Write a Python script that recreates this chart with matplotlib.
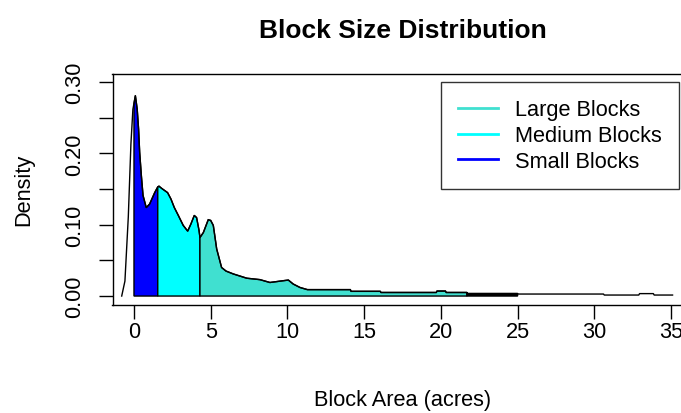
import numpy as np
import matplotlib.pyplot as plt
from matplotlib.lines import Line2D

plt.rcParams['font.family'] = ['Liberation Sans', 'DejaVu Sans']

# density curve (block area in acres, density)
area = [-0.80, -0.59, -0.37, -0.20, -0.07, 0.00, 0.09, 0.21, 0.30, 0.37,
        0.48, 0.59, 0.80, 1.02, 1.35, 1.55, 1.63, 1.80, 2.19, 2.41,
        2.63, 2.89, 3.21, 3.50, 3.71, 3.93, 4.08, 4.24, 4.30, 4.52,
        4.84, 5.00, 5.17, 5.39, 5.71, 6.00, 6.47, 7.35, 8.21, 8.86,
        9.73, 10.06, 10.38, 10.82, 11.30, 14.10, 14.15, 16.05, 16.10, 19.70,
        19.75, 20.30, 20.35, 21.70, 21.75, 25.00, 25.05, 30.60, 30.65, 32.90,
        32.95, 33.85, 33.90, 35.10]
density = [0.000, 0.021, 0.111, 0.213, 0.262, 0.270, 0.281, 0.262, 0.234, 0.2015,
           0.169, 0.141, 0.124, 0.129, 0.145, 0.153, 0.154, 0.151, 0.145, 0.136,
           0.124, 0.113, 0.099, 0.091, 0.101, 0.113, 0.110, 0.092, 0.082, 0.089,
           0.107, 0.106, 0.099, 0.066, 0.040, 0.035, 0.031, 0.025, 0.023, 0.019,
           0.0215, 0.0224, 0.0168, 0.012, 0.009, 0.009, 0.0066, 0.0066, 0.005, 0.005,
           0.007, 0.007, 0.005, 0.005, 0.0035, 0.0035, 0.0028, 0.0028, 0.0014, 0.0014,
           0.0034, 0.0034, 0.0014, 0.0014]

# shaded ranges
cut_lo = [0.00, 1.55, 4.30, 21.70]
cut_hi = [1.55, 4.30, 21.70, 25.00]
fills = ['#0000FF', '#00FFFF', '#40E0D0', 'black']

legend_labels = ['Large Blocks', 'Medium Blocks', 'Small Blocks']
legend_colors = ['#40E0D0', '#00FFFF', '#0000FF']

x = np.array(area)
y = np.array(density)

fig = plt.figure(figsize=(6.81, 4.14), dpi=100)
ax = fig.add_axes([112.5 / 681, 1 - 305.6 / 414, 580 / 681, 231.1 / 414])

ax.plot(x, y, color='black', lw=1.0)
for lo, hi, c in zip(cut_lo, cut_hi, fills):
    m = (x >= lo) & (x <= hi)
    ax.fill(np.r_[lo, x[m], hi], np.r_[0, y[m], 0], facecolor=c,
            edgecolor='black', lw=1.0)

ax.set_xlim(-1.4, 36.4)
ax.set_ylim(-0.012, 0.312)
ax.set_xticks(np.arange(0, 36, 5))
ax.set_yticks(np.arange(0, 0.31, 0.05))
ax.set_yticklabels([('%.2f' % v) if i % 2 == 0 else '' for i, v in
                    enumerate(np.arange(0, 0.31, 0.05))],
                   rotation=90, va='center')
ax.tick_params(direction='out', length=10, width=1.0, labelsize=15.7)
ax.tick_params(axis='x', pad=2)
ax.tick_params(axis='y', pad=10)
for s in ax.spines.values():
    s.set_linewidth(1.0)

ax.set_title('Block Size Distribution', fontsize=19, fontweight='bold', pad=26)
ax.set_xlabel('Block Area (acres)', fontsize=15.7, labelpad=34)
ax.set_ylabel('Density', fontsize=15.7, labelpad=21)

handles = [Line2D([0], [0], color=c, lw=2) for c in legend_colors]
leg = fig.legend(handles, legend_labels, loc='upper left',
                 bbox_to_anchor=(441 / 681, 1 - 83 / 414), borderaxespad=0,
                 fontsize=15.7, frameon=True, fancybox=False,
                 handlelength=1.8, handletextpad=0.8, labelspacing=0.22,
                 borderpad=0.8)
leg.get_frame().set_edgecolor('black')
leg.get_frame().set_linewidth(1.0)

fig.savefig('out.png', dpi=100)
